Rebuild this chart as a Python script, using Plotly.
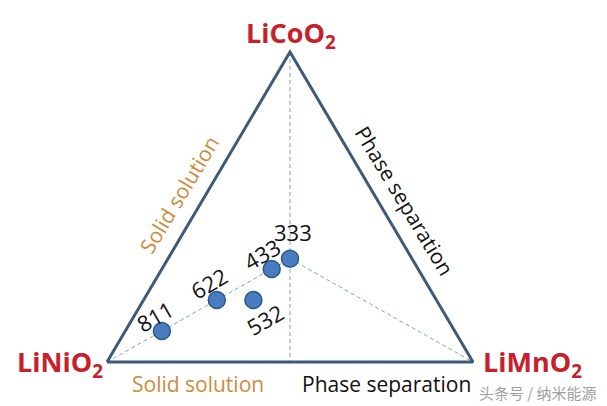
import plotly.graph_objects as go

# Compositions (fractions) of the NCM cathodes: Ni, Co, Mn
labels = ["811", "622", "433", "333", "532"]
ni = [0.8, 0.6, 0.4, 1/3, 0.5]
co = [0.1, 0.2, 0.3, 1/3, 0.2]
mn = [0.1, 0.2, 0.3, 1/3, 0.3]

vertex_names = ["LiNiO<sub>2</sub>", "LiMnO<sub>2</sub>", "LiCoO<sub>2</sub>"]
edge_labels = ["Solid solution", "Phase separation", "Solid solution", "Phase separation"]
watermark = "头条号 / 纳米能源"

H = 310 / 366  # height of triangle in x-units


def to_xy(n, c, m):
    return m + 0.5 * c, H * c


vNi = to_xy(1, 0, 0)
vMn = to_xy(0, 0, 1)
vCo = to_xy(0, 1, 0)
cen = to_xy(1/3, 1/3, 1/3)
mid = to_xy(0.5, 0, 0.5)

fig = go.Figure()

dash_col = "#8aa5b0"
fig.add_trace(go.Scatter(x=[vCo[0], mid[0]], y=[vCo[1], mid[1]], mode="lines",
                         line=dict(color=dash_col, width=1, dash="4px,3px"), hoverinfo="skip"))
fig.add_trace(go.Scatter(x=[vNi[0], cen[0], vMn[0]], y=[vNi[1], cen[1], vMn[1]], mode="lines",
                         line=dict(color=dash_col, width=1, dash="4px,3px"), hoverinfo="skip"))

fig.add_trace(go.Scatter(x=[vNi[0], vMn[0], vCo[0], vNi[0]], y=[vNi[1], vMn[1], vCo[1], vNi[1]],
                         mode="lines", line=dict(color="#3d5b78", width=3), hoverinfo="skip"))

px, py = zip(*[to_xy(a, b, c) for a, b, c in zip(ni, co, mn)])
fig.add_trace(go.Scatter(x=px, y=py, mode="markers",
                         marker=dict(size=17, color="#4a7cc0", line=dict(color="#2a5a8a", width=1.5)),
                         hoverinfo="skip"))

offsets = {"811": (-7, 15, -30), "622": (-8, 17, -30), "433": (-10, 15, -30),
           "333": (3, 27, 0), "532": (12, -19, -30)}
font_txt = "Open Sans, Lato, sans-serif"
for lab, x, y in zip(labels, px, py):
    dx, dy, ang = offsets[lab]
    fig.add_annotation(x=x, y=y, xref="x", yref="y", text=lab, showarrow=False,
                       xshift=dx, yshift=dy, textangle=ang,
                       font=dict(family=font_txt, size=22, color="#111111"))

red = "#c8202b"
vfont = dict(family="Open Sans, Lato, sans-serif", size=27, color=red)
fig.add_annotation(x=vCo[0], y=vCo[1], text="<b>" + vertex_names[2] + "</b>", showarrow=False,
                   xshift=1, yshift=18, font=vfont)
fig.add_annotation(x=vNi[0], y=vNi[1], text="<b>" + vertex_names[0] + "</b>", showarrow=False,
                   xshift=-47, yshift=-1, font=vfont)
fig.add_annotation(x=vMn[0], y=vMn[1], text="<b>" + vertex_names[1] + "</b>", showarrow=False,
                   xshift=59, yshift=-1, font=vfont)

orange = "#d08a3c"
efont = dict(family=font_txt, size=21)
lx, ly = to_xy(0.46, 0.54, 0)
fig.add_annotation(x=lx, y=ly, text=edge_labels[0], showarrow=False, textangle=-59,
                   xshift=-27, yshift=0, font=dict(efont, color=orange))
rx, ry = to_xy(0, 0.52, 0.48)
fig.add_annotation(x=rx, y=ry, text=edge_labels[1], showarrow=False, textangle=59,
                   xshift=27, yshift=0, font=dict(efont, color="#111111"))
b1 = to_xy(0.75, 0, 0.25)
fig.add_annotation(x=b1[0], y=b1[1], text=edge_labels[2], showarrow=False,
                   xshift=-1, yshift=-22, font=dict(efont, color=orange))
b2 = to_xy(0.24, 0, 0.76)
fig.add_annotation(x=b2[0], y=b2[1], text=edge_labels[3], showarrow=False,
                   xshift=1, yshift=-22, font=dict(efont, color="#111111"))

fig.add_annotation(xref="paper", yref="paper", x=538/607, y=14/406, xanchor="center", yanchor="middle",
                   text=watermark, showarrow=False,
                   font=dict(family="Noto Sans CJK SC", size=15, color="#a0a0a0"))

fig.update_layout(
    width=607, height=406, margin=dict(l=0, r=0, t=0, b=0),
    paper_bgcolor="white", plot_bgcolor="white", showlegend=False,
    xaxis=dict(range=[-107/366, 500/366], visible=False, fixedrange=True),
    yaxis=dict(range=[-44/366, 362/366], visible=False, fixedrange=True),
)

fig.write_html("out.html", config={"displayModeBar": False},
               post_script="document.body.style.margin='0';document.body.style.padding='0';")
